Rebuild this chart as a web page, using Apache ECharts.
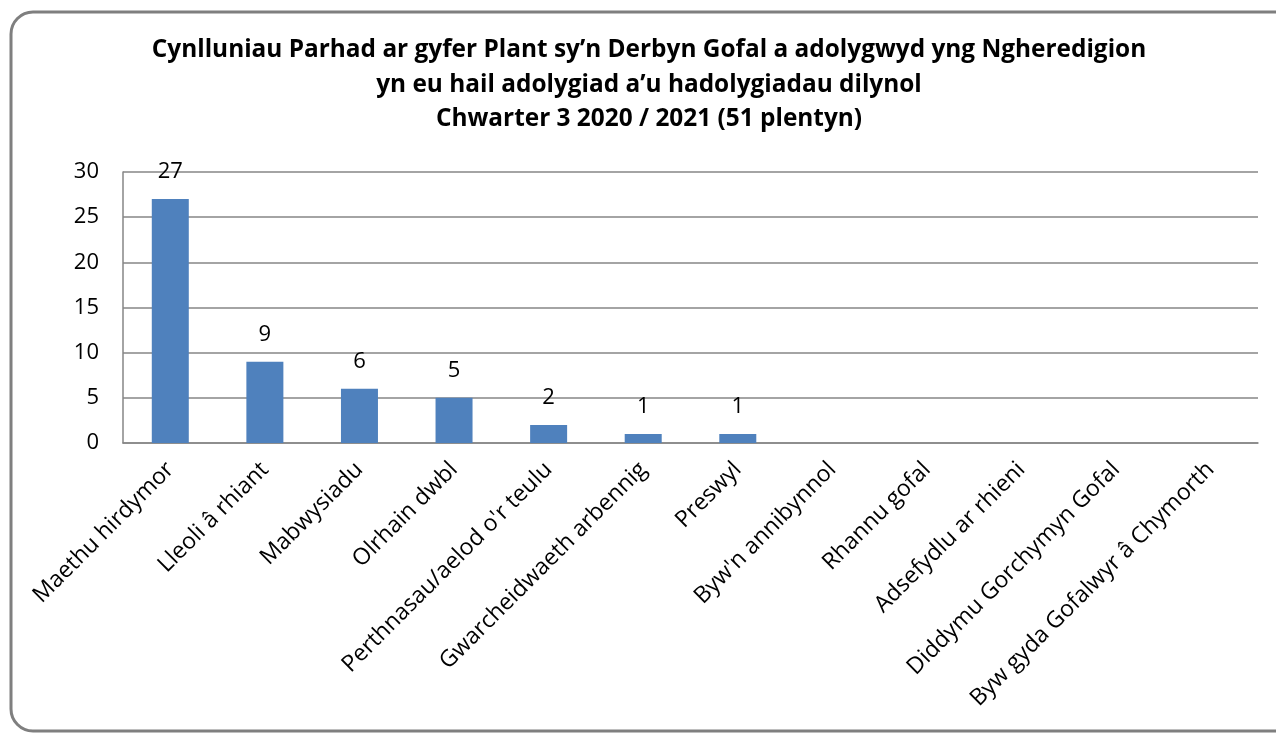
<!DOCTYPE html>
<html>
<head>
    <meta charset="utf-8">
    <title>Cynlluniau Parhad</title>
    <script src="https://cdn.jsdelivr.net/npm/echarts@6/dist/echarts.min.js"></script>
    <style>
        html, body { margin: 0; padding: 0; background: #fff; }
    </style>
</head>
<body>
    <div id="main" style="width: 1276px;height:733px;"></div>

<script>
// data
var categories = ['Maethu hirdymor', 'Lleoli â rhiant', 'Mabwysiadu', 'Olrhain dwbl',
    "Perthnasau/aelod o'r teulu", 'Gwarcheidwaeth arbennig', 'Preswyl', "Byw'n annibynnol",
    'Rhannu gofal', 'Adsefydlu ar rhieni', 'Diddymu Gorchymyn Gofal', 'Byw gyda Gofalwyr â Chymorth'];
var counts = [27, 9, 6, 5, 2, 1, 1, null, null, null, null, null];
var yTicks = [0, 5, 10, 15, 20, 25, 30];

var titleLines = [
    'Cynlluniau Parhad ar gyfer Plant sy’n Derbyn Gofal a adolygwyd yng Ngheredigion',
    'yn eu hail adolygiad a’u hadolygiadau dilynol',
    'Chwarter 3 2020 / 2021 (51 plentyn)'
];

var font = '"Open Sans", Lato, sans-serif';
var myChart = echarts.init(document.getElementById('main'));

myChart.setOption({
    animation: false,
    backgroundColor: '#fff',
    title: {
        text: titleLines.join('\n'),
        left: 649,
        top: 33,
        padding: 0,
        textAlign: 'center',
        textStyle: {
            fontFamily: font,
            fontWeight: 'bold',
            fontSize: 24.4,
            lineHeight: 34.5,
            color: '#000'
        }
    },
    // rounded chart frame
    graphic: [{
        type: 'rect',
        shape: { x: 11, y: 12, width: 1290, height: 719, r: 22 },
        style: { fill: 'none', stroke: '#7f7f7f', lineWidth: 3 },
        z: 100
    }],
    grid: {
        left: 123,
        right: 18,
        top: 172,
        bottom: 290,
        containLabel: false
    },
    xAxis: {
        type: 'category',
        data: categories,
        axisLine: { lineStyle: { color: '#868686', width: 1.5 } },
        axisTick: { show: false },
        axisLabel: {
            rotate: 45,
            interval: 0,
            margin: 23,
            fontFamily: font,
            fontSize: 23,
            color: '#000'
        }
    },
    yAxis: {
        type: 'value',
        min: yTicks[0],
        max: yTicks[yTicks.length - 1],
        interval: 5,
        axisLine: { show: true, lineStyle: { color: '#868686', width: 1.5 } },
        axisTick: { show: false },
        splitLine: { lineStyle: { color: '#868686', width: 1.5 } },
        axisLabel: {
            margin: 24,
            fontFamily: font,
            fontSize: 22,
            color: '#000'
        }
    },
    series: [{
        type: 'bar',
        data: counts,
        barWidth: 37,
        itemStyle: { color: '#4f81bd' },
        label: {
            show: true,
            position: 'top',
            distance: 16,
            fontFamily: font,
            fontSize: 22,
            color: '#000'
        }
    }]
});
</script>

</body>
</html>
